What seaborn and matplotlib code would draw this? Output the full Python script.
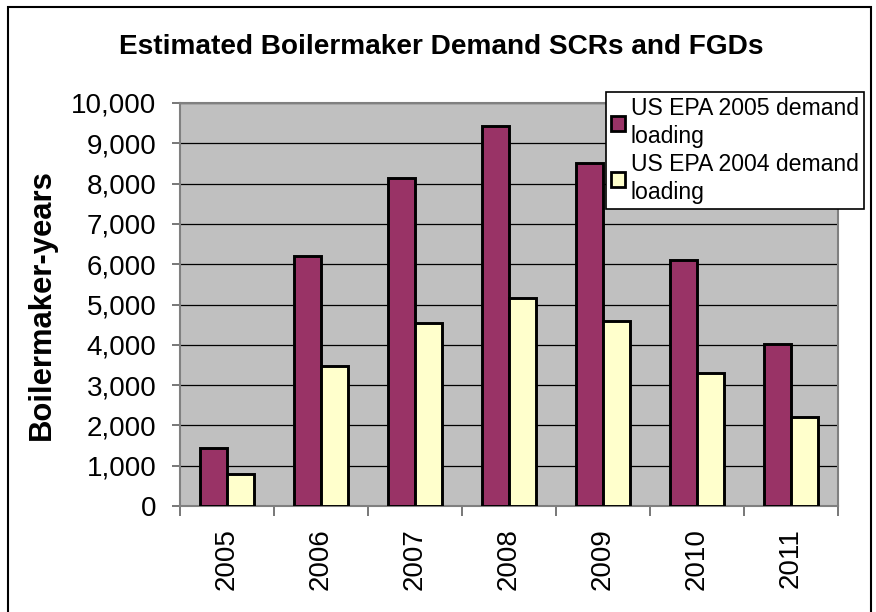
import numpy as np
import pandas as pd
import seaborn as sns
import matplotlib.pyplot as plt
from matplotlib.patches import Rectangle
from matplotlib.ticker import FixedLocator

# chart data
years = ["2005", "2006", "2007", "2008", "2009", "2010", "2011"]
epa_2005 = [1430, 6200, 8150, 9430, 8520, 6100, 4030]
epa_2004 = [800, 3480, 4530, 5150, 4590, 3290, 2200]
series_names = ["US EPA 2005 demand\nloading", "US EPA 2004 demand\nloading"]
y_ticks = [0, 1000, 2000, 3000, 4000, 5000, 6000, 7000, 8000, 9000, 10000]
y_tick_labels = ["0", "1,000", "2,000", "3,000", "4,000", "5,000",
                 "6,000", "7,000", "8,000", "9,000", "10,000"]


def main():
    df = pd.DataFrame({
        "Year": years * 2,
        "Value": epa_2005 + epa_2004,
        "Series": [series_names[0]] * len(years) + [series_names[1]] * len(years),
    })

    sns.set_style("white")
    plt.rcParams["font.family"] = ["Liberation Sans", "DejaVu Sans"]
    plt.rcParams["text.color"] = "black"
    plt.rcParams["xtick.color"] = "black"
    plt.rcParams["ytick.color"] = "black"
    plt.rcParams["axes.labelcolor"] = "black"

    fig = plt.figure(figsize=(8.76, 6.12), dpi=100)
    ax = fig.add_axes([180 / 876, 1 - 506 / 612, 658 / 876, 403 / 612])
    ax.set_facecolor("#C0C0C0")

    sns.barplot(
        data=df, x="Year", y="Value", hue="Series", ax=ax,
        palette=["#993366", "#FFFFCC"], width=0.585,
        edgecolor="black", linewidth=2.1, saturation=1, zorder=3,
    )

    ax.set_ylim(0, 10000)
    ax.set_xlim(-0.5, len(years) - 0.5)
    ax.set_yticks(y_ticks)
    ax.set_yticklabels(y_tick_labels, fontsize=20)
    ax.yaxis.grid(True, color="black", linewidth=0.9, zorder=1)
    ax.set_axisbelow(True)

    # category ticks at the group boundaries, labels in the middle
    ax.tick_params(axis="x", which="major", length=0, pad=16, labelsize=20,
                   labelrotation=90)
    ax.xaxis.set_minor_locator(FixedLocator(np.arange(-0.5, len(years), 1.0)))
    ax.tick_params(axis="x", which="minor", length=7, width=1.2,
                   color="#606060", direction="out", bottom=True)
    ax.tick_params(axis="y", length=6, width=1.2, color="#606060", pad=11,
                   left=True, direction="out")

    for side in ["left", "right", "top", "bottom"]:
        ax.spines[side].set_visible(True)
        ax.spines[side].set_color("#808080")
        ax.spines[side].set_linewidth(1.5)

    ax.set_xlabel("")
    ax.set_ylabel("Boilermaker-years", fontsize=22.3, fontweight="bold",
                  labelpad=10)

    # legend box overlapping the upper right corner
    handles, labels = ax.get_legend_handles_labels()
    leg = ax.legend(
        handles, labels, loc="upper left",
        bbox_to_anchor=(606 / 876, 1 - 92 / 612),
        bbox_transform=fig.transFigure,
        fontsize=16.6, frameon=True, fancybox=False, framealpha=1,
        edgecolor="black", handlelength=0.6, handleheight=0.6,
        handletextpad=0.25, borderpad=0.22, labelspacing=0.25,
        borderaxespad=0,
    )
    leg.get_frame().set_linewidth(1.2)
    for t in leg.get_texts():
        t.set_linespacing(1.25)
    for h in leg.legend_handles:
        h.set_linewidth(2.0)

    fig.text(0.504, 1 - 47 / 612, "Estimated Boilermaker Demand SCRs and FGDs",
             ha="center", va="center", fontsize=20.2, fontweight="bold")

    # outer chart border
    fig.patches.append(Rectangle(
        (8 / 876, -0.05), 863 / 876, 1.05 - 7 / 612,
        transform=fig.transFigure, fill=False, edgecolor="black",
        linewidth=1.5, zorder=10,
    ))

    fig.savefig("out.png", dpi=100)


if __name__ == "__main__":
    main()
